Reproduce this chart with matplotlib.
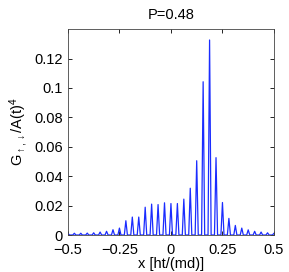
import matplotlib
matplotlib.use("Agg")
import matplotlib.pyplot as plt
import numpy as np

# peak positions (in units of 1/32) and peak heights
peak_index = list(range(-16, 17))
peak_height = [0.0012, 0.0012, 0.0012, 0.0013, 0.0015, 0.0020, 0.0025, 0.0036,
               0.0047, 0.0097, 0.0122, 0.0122, 0.0189, 0.0210, 0.0207, 0.0219,
               0.0214, 0.0214, 0.0244, 0.0318, 0.0505, 0.1042, 0.1326, 0.0526,
               0.0221, 0.0113, 0.0065, 0.0047, 0.0035, 0.0025, 0.0020, 0.0015,
               0.0012]
x_ticks = [-0.5, -0.25, 0, 0.25, 0.5]
x_ticklabels = ['\u22120.5', '\u22120.25', '0', '0.25', '0.5']
y_ticks = [0, 0.02, 0.04, 0.06, 0.08, 0.1, 0.12]
y_ticklabels = ['0', '0.02', '0.04', '0.06', '0.08', '0.1', '0.12']

plt.rcParams['font.family'] = ['Liberation Sans', 'DejaVu Sans']
plt.rcParams['mathtext.fontset'] = 'custom'
plt.rcParams['mathtext.rm'] = 'Liberation Sans'
plt.rcParams['mathtext.it'] = 'Liberation Sans'

fig = plt.figure(figsize=(2.89, 2.72), dpi=100)
ax = fig.add_axes([0.235, 0.136, 0.713, 0.757])

# narrow spikes: each peak drops back to zero a short distance either side
half_w = 0.0075
xs, ys = [], []
for k, h in zip(peak_index, peak_height):
    xc = k / 32
    xs += [xc - half_w, xc, xc + half_w]
    ys += [0, h, 0]
ax.plot(xs, ys, color='#1a2cff', lw=0.9)

ax.set_xlim(-0.5, 0.5)
ax.set_ylim(0, 0.14)
ax.set_xticks(x_ticks)
ax.set_xticklabels(x_ticklabels)
ax.set_yticks(y_ticks)
ax.set_yticklabels(y_ticklabels)
ax.tick_params(direction='in', top=True, right=True, labelsize=10.5,
               length=3, width=0.6)
ax.tick_params(axis='x', pad=5.5)
ax.tick_params(axis='y', pad=3.5)
for s in ax.spines.values():
    s.set_linewidth(0.6)
    s.set_color('#444444')

ax.set_title('P=0.48', fontsize=10.5, pad=7)
ax.set_xlabel('x [ht/(md)]', fontsize=10.5, labelpad=0)
ax.set_ylabel(r'$\mathrm{G}_{\uparrow,\downarrow}/\mathrm{A(t)}^4$', fontsize=10.5, labelpad=3)

fig.savefig('out.png', dpi=100)
